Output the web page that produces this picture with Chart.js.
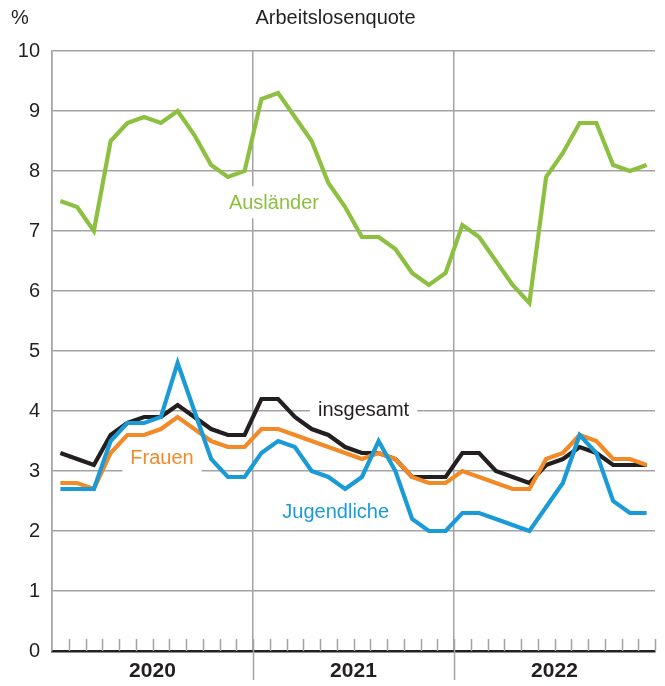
<!DOCTYPE html>
<html>
<head>
<meta charset="utf-8">
<script src="https://cdn.jsdelivr.net/npm/chart.js@4/dist/chart.umd.min.js"></script>
<style>
  html, body { margin: 0; padding: 0; background: #fff; }
</style>
</head>
<body>
<canvas id="line-chart" width="665" height="686"></canvas>
<script>
var jahre = ['2020', '2021', '2022'];
var monate = [];
for (let j = 0; j < jahre.length; j++) {
  for (let m = 1; m <= 12; m++) {
    monate.push(jahre[j] + '-' + (m < 10 ? '0' + m : m));
  }
}

var auslaender = [7.5, 7.4, 7.0, 8.5, 8.8, 8.9, 8.8, 9.0, 8.6, 8.1, 7.9, 8.0,
                  9.2, 9.3, 8.9, 8.5, 7.8, 7.4, 6.9, 6.9, 6.7, 6.3, 6.1, 6.3,
                  7.1, 6.9, 6.5, 6.1, 5.8, 7.9, 8.3, 8.8, 8.8, 8.1, 8.0, 8.1];
var insgesamt = [3.3, 3.2, 3.1, 3.6, 3.8, 3.9, 3.9, 4.1, 3.9, 3.7, 3.6, 3.6,
                 4.2, 4.2, 3.9, 3.7, 3.6, 3.4, 3.3, 3.3, 3.2, 2.9, 2.9, 2.9,
                 3.3, 3.3, 3.0, 2.9, 2.8, 3.1, 3.2, 3.4, 3.3, 3.1, 3.1, 3.1];
var frauen = [2.8, 2.8, 2.7, 3.3, 3.6, 3.6, 3.7, 3.9, 3.7, 3.5, 3.4, 3.4,
              3.7, 3.7, 3.6, 3.5, 3.4, 3.3, 3.2, 3.3, 3.2, 2.9, 2.8, 2.8,
              3.0, 2.9, 2.8, 2.7, 2.7, 3.2, 3.3, 3.6, 3.5, 3.2, 3.2, 3.1];
var jugendliche = [2.7, 2.7, 2.7, 3.5, 3.8, 3.8, 3.9, 4.8, 4.0, 3.2, 2.9, 2.9,
                   3.3, 3.5, 3.4, 3.0, 2.9, 2.7, 2.9, 3.5, 3.0, 2.2, 2.0, 2.0,
                   2.3, 2.3, 2.2, 2.1, 2.0, 2.4, 2.8, 3.6, 3.3, 2.5, 2.3, 2.3];

var GRUEN = '#8dc040', ORANGE = '#f28a28', BLAU = '#1a9bd7', SCHWARZ = '#231f20';
var GRID = '#a3a3a3';
var FONT = '"Liberation Sans", Arial, sans-serif';

// Serien-Beschriftungen mit weissem Hintergrund, Monatsstriche, Jahrestrenner unter der Achse
var extras = {
  id: 'extras',
  beforeDatasetsDraw(chart, args, opts) {
    const {ctx, chartArea, scales: {x, y}} = chart;
    ctx.save();
    ctx.font = '20px ' + FONT;
    ctx.textAlign = 'center';
    ctx.textBaseline = 'middle';
    opts.labels.forEach(function(l) {
      const px = x.getPixelForValue(l.at[0]);
      const py = y.getPixelForValue(l.at[1]);
      const w = ctx.measureText(l.text).width + 16;
      ctx.fillStyle = '#fff';
      ctx.fillRect(px - w / 2, py - 16, w, 32);
      ctx.fillStyle = l.color;
      ctx.fillText(l.text, px, py + 1);
    });

    // kleine Monatsstriche
    ctx.strokeStyle = GRID;
    ctx.lineWidth = 1.5;
    for (let k = 1; k <= monate.length; k++) {
      const px = Math.round(x.getPixelForValue(k - 0.5)) + 0.5;
      ctx.beginPath();
      ctx.moveTo(px, chartArea.bottom);
      ctx.lineTo(px, chartArea.bottom - 12);
      ctx.stroke();
    }
    // Jahrestrenner nach unten verlaengern
    for (let k = 12; k < monate.length; k += 12) {
      const px = Math.round(x.getPixelForValue(k - 0.5)) + 0.5;
      ctx.beginPath();
      ctx.moveTo(px, chartArea.bottom);
      ctx.lineTo(px, chartArea.bottom + 29);
      ctx.stroke();
    }

    ctx.fillStyle = SCHWARZ;
    ctx.textAlign = 'left';
    ctx.font = '20px ' + FONT;
    ctx.fillText('%', 11, 18);
    ctx.restore();
  }
};

new Chart(document.getElementById('line-chart'), {
  type: 'line',
  data: {
    labels: monate,
    datasets: [
      { label: 'Jugendliche', data: jugendliche, borderColor: BLAU },
      { label: 'Frauen', data: frauen, borderColor: ORANGE },
      { label: 'insgesamt', data: insgesamt, borderColor: SCHWARZ },
      { label: 'Ausländer', data: auslaender, borderColor: GRUEN }
    ]
  },
  options: {
    responsive: false,
    animation: false,
    layout: { padding: { left: 16, right: 10 } },
    elements: {
      point: { radius: 0 },
      line: { borderWidth: 4.2, tension: 0, fill: false }
    },
    plugins: {
      legend: { display: false },
      tooltip: { enabled: false },
      title: {
        display: true,
        text: 'Arbeitslosenquote',
        color: SCHWARZ,
        font: { family: FONT, size: 20, weight: 'normal' },
        padding: { top: 6, bottom: 21 }
      },
      extras: {
        labels: [
          { text: 'Ausländer', at: [12.75, 7.48], color: GRUEN },
          { text: 'insgesamt', at: [18.1, 4.02], color: SCHWARZ },
          { text: 'Frauen', at: [6.07, 3.22], color: ORANGE },
          { text: 'Jugendliche', at: [16.44, 2.32], color: BLAU }
        ]
      }
    },
    scales: {
      x: {
        offset: true,
        afterFit: function(s) { s.height = 35; },
        grid: {
          offset: true,
          drawTicks: false,
          lineWidth: 1.5,
          color: function(c) {
            return (c.index % 12 === 0 && c.index < monate.length) ? GRID : 'rgba(0,0,0,0)';
          }
        },
        border: { color: SCHWARZ, width: 2.5 },
        ticks: {
          autoSkip: false,
          maxRotation: 0,
          padding: 8,
          labelOffset: -8.4,
          color: SCHWARZ,
          font: { family: FONT, size: 21, weight: 'bold' },
          callback: function(v, i) {
            return i % 12 === 6 ? jahre[Math.floor(i / 12)] : '';
          }
        }
      },
      y: {
        min: 0,
        max: 10,
        afterFit: function(s) { s.width = 36; },
        grid: { color: GRID, lineWidth: 1.5, drawTicks: false },
        border: { color: GRID, width: 1.5 },
        ticks: {
          stepSize: 1,
          padding: 12,
          color: SCHWARZ,
          font: { family: FONT, size: 20 }
        }
      }
    }
  },
  plugins: [extras]
});
</script>
</body>
</html>
